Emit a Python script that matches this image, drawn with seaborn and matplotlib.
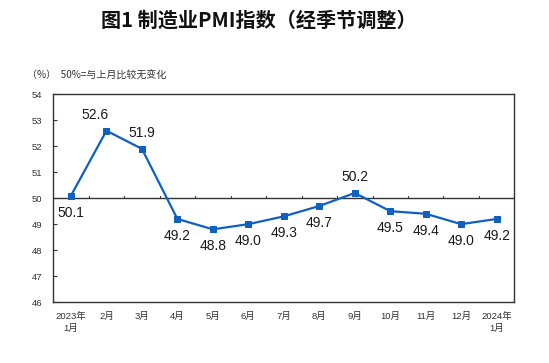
import matplotlib
matplotlib.use("Agg")
import matplotlib.pyplot as plt
import seaborn as sns
import pandas as pd

# data
months = ["2023年\n1月", "2月", "3月", "4月", "5月", "6月", "7月",
          "8月", "9月", "10月", "11月", "12月", "2024年\n1月"]
pmi = [50.1, 52.6, 51.9, 49.2, 48.8, 49.0, 49.3, 49.7, 50.2, 49.5, 49.4, 49.0, 49.2]
label_above = [False, True, True, False, False, False, False,
               False, True, False, False, False, False]

LINE = "#1060C0"
FRAME = "#333333"

sns.set_theme(style="white")
plt.rcParams["font.family"] = ["Liberation Sans", "Noto Sans CJK SC", "DejaVu Sans"]

df = pd.DataFrame({"idx": range(len(months)), "pmi": pmi})

fig = plt.figure(figsize=(5.49, 3.63), dpi=100)
ax = fig.add_axes([0.097, 0.168, 0.840, 0.572])

sns.lineplot(data=df, x="idx", y="pmi", ax=ax, color=LINE, lw=1.6,
             marker="s", markersize=5, markeredgecolor=LINE, zorder=3)

# horizontal reference axis at 50 with small upward ticks between months
ax.axhline(50, color=FRAME, lw=1, zorder=2)
for i in range(len(months) - 1):
    ax.plot([i + 0.5, i + 0.5], [50, 50.1], color=FRAME, lw=0.8, zorder=2)

# value labels
for i, v in enumerate(pmi):
    dx = -11 if i == 1 else 0
    dy = 16 if label_above[i] else -17
    ax.annotate(f"{v:.1f}", (i, v), textcoords="offset pixels", xytext=(dx, dy),
                ha="center", va="center", fontsize=10, color="#1a1a1a")

ax.set_xlim(-0.5, len(months) - 0.5)
ax.set_ylim(46, 54)
ax.set_yticks(range(46, 55))
ax.set_xticks(range(len(months)))
ax.set_xticklabels(months, fontsize=6.8, color="#333333", linespacing=1.5)
ax.tick_params(axis="y", direction="in", length=3, width=0.8, color=FRAME,
               labelsize=6.8, labelcolor="#333333", pad=8, left=True)
ax.tick_params(axis="x", length=0, pad=7)
ax.set_xlabel("")
ax.set_ylabel("")
for s in ax.spines.values():
    s.set_color(FRAME)
    s.set_linewidth(1)
    s.set_visible(True)

fig.text(259 / 549, 1 - 20 / 363, "图1 制造业PMI指数（经季节调整）",
         ha="center", va="center", fontsize=14.5, fontweight="bold",
         family=["Noto Sans CJK SC", "DejaVu Sans"], color="#111111")
fig.text(27 / 549, 1 - 76 / 363, "（%）  50%=与上月比较无变化",
         ha="left", va="center", fontsize=7.2,
         family=["Noto Sans CJK SC", "DejaVu Sans"], color="#333333")

fig.savefig("out.png", dpi=100)
